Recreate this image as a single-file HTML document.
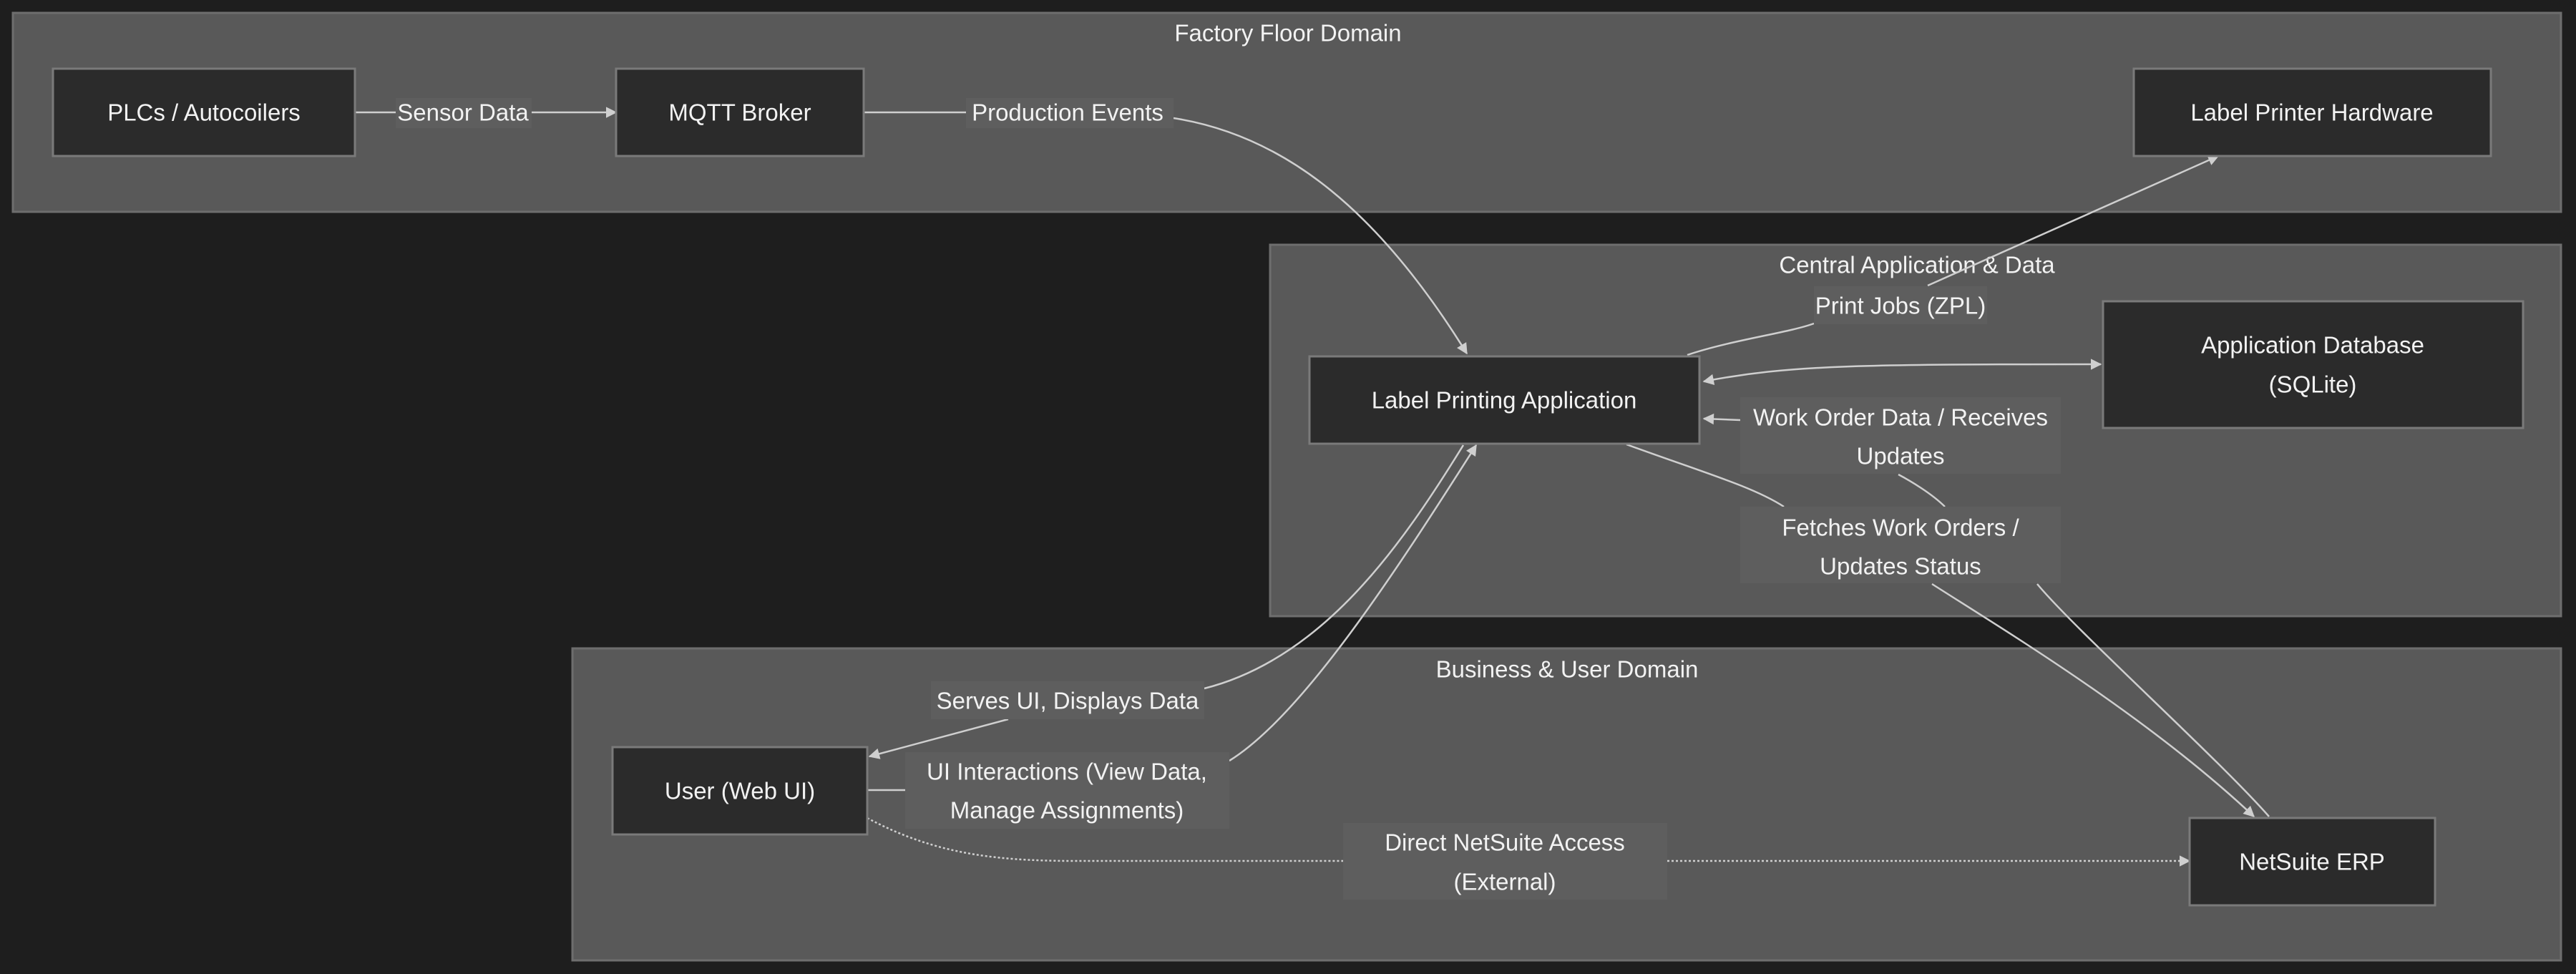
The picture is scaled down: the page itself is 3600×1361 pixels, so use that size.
<!DOCTYPE html>
<html><head><meta charset="utf-8"><style>
html,body{margin:0;padding:0;background:#1e1e1e;}
svg{display:block;}
text{font-family:"Liberation Sans",sans-serif;font-size:33px;fill:#f2f2f2;text-anchor:middle;dominant-baseline:central;}
.cl{fill:#595959;stroke:#6e6e6e;stroke-width:3;}
.nd{fill:#2b2b2b;stroke:#7a7a7a;stroke-width:3;}
.lb{fill:#5e5e5e;}
.e{fill:none;stroke:#cfcfcf;stroke-width:2.5;}
</style></head><body>
<svg width="3600" height="1361" viewBox="0 0 3600 1361" xmlns="http://www.w3.org/2000/svg">
<defs>
<marker id="a" viewBox="0 0 10 10" refX="9" refY="5" markerWidth="7" markerHeight="7" markerUnits="userSpaceOnUse" orient="auto" style="overflow:visible">
<path d="M0,0 L10,5 L0,10 z" fill="#cfcfcf" transform="scale(2.2) translate(-5,-2.7)"/>
</marker>
<marker id="b" viewBox="0 0 10 10" refX="1" refY="5" markerWidth="7" markerHeight="7" markerUnits="userSpaceOnUse" orient="auto" style="overflow:visible">
<path d="M10,0 L0,5 L10,10 z" fill="#cfcfcf" transform="scale(2.2) translate(-0.5,-2.7)"/>
</marker>
</defs>
<rect width="3600" height="1361" fill="#1e1e1e"/>
<!-- clusters -->
<rect class="cl" x="18" y="18" width="3561" height="278"/>
<rect class="cl" x="1775" y="342" width="1804" height="519"/>
<rect class="cl" x="800" y="906" width="2779" height="436"/>
<text x="1800" y="46">Factory Floor Domain</text>
<text x="2679" y="370">Central Application &amp; Data</text>
<text x="2190" y="935">Business &amp; User Domain</text>

<!-- edges -->
<path class="e" d="M496,157 L861,157" marker-end="url(#a)"/>
<path class="e" d="M1207,157 L1350,157 M1640,165 C1800,190 1930,300 2050,494" marker-end="url(#a)"/>
<path class="e" d="M2358,496 C2420,475 2500,465 2535,452 M2694,399 L3100,218" marker-end="url(#a)"/>
<path class="e" d="M2381,533 C2500,510 2600,509 2936,509" marker-start="url(#b)" marker-end="url(#a)"/>
<path class="e" d="M2273,621 C2380,660 2450,680 2493,708 M2700,816 C2800,880 3000,1000 3150,1141" marker-end="url(#a)"/>
<path class="e" d="M3171,1141 C3100,1060 2900,880 2847,816 M2718,708 C2700,690 2670,672 2653,663 M2432,587 L2381,585" marker-end="url(#a)"/>
<path class="e" d="M2045,622 C1960,760 1850,920 1683,962 M1409,1005 L1215,1057" marker-end="url(#a)"/>
<path class="e" d="M1212,1104 L1265,1104 M1718,1063 C1820,1000 1950,800 2063,622" marker-end="url(#a)"/>
<path class="e" d="M1212,1143 C1300,1190 1380,1203 1500,1203 L1877,1203 M2330,1203 L3060,1203" stroke-dasharray="3,3" marker-end="url(#a)"/>

<!-- edge labels -->
<rect class="lb" x="553" y="137" width="190" height="42"/><text x="647" y="157">Sensor Data</text>
<rect class="lb" x="1350" y="137" width="290" height="42"/><text x="1492" y="157">Production Events</text>
<rect class="lb" x="2535" y="400" width="242" height="53"/><text x="2656" y="427">Print Jobs (ZPL)</text>
<rect class="lb" x="2432" y="555" width="448" height="107"/><text x="2656" y="583">Work Order Data / Receives</text><text x="2656" y="637">Updates</text>
<rect class="lb" x="2432" y="708" width="448" height="107"/><text x="2656" y="737">Fetches Work Orders /</text><text x="2656" y="791">Updates Status</text>
<rect class="lb" x="1301" y="952" width="382" height="53"/><text x="1492" y="979">Serves UI, Displays Data</text>
<rect class="lb" x="1265" y="1051" width="453" height="107"/><text x="1491" y="1078">UI Interactions (View Data,</text><text x="1491" y="1132">Manage Assignments)</text>
<rect class="lb" x="1877" y="1150" width="453" height="107"/><text x="2103" y="1177">Direct NetSuite Access</text><text x="2103" y="1232">(External)</text>

<!-- nodes -->
<rect class="nd" x="74" y="96" width="422" height="122"/><text x="285" y="157">PLCs / Autocoilers</text>
<rect class="nd" x="861" y="96" width="346" height="122"/><text x="1034" y="157">MQTT Broker</text>
<rect class="nd" x="2982" y="96" width="499" height="122"/><text x="3231" y="157">Label Printer Hardware</text>
<rect class="nd" x="1830" y="498" width="545" height="122"/><text x="2102" y="559">Label Printing Application</text>
<rect class="nd" x="2939" y="421" width="587" height="177"/><text x="3232" y="482">Application Database</text><text x="3232" y="537">(SQLite)</text>
<rect class="nd" x="856" y="1044" width="356" height="122"/><text x="1034" y="1105">User (Web UI)</text>
<rect class="nd" x="3060" y="1143" width="343" height="122"/><text x="3231" y="1204">NetSuite ERP</text>
</svg>
</body></html>
